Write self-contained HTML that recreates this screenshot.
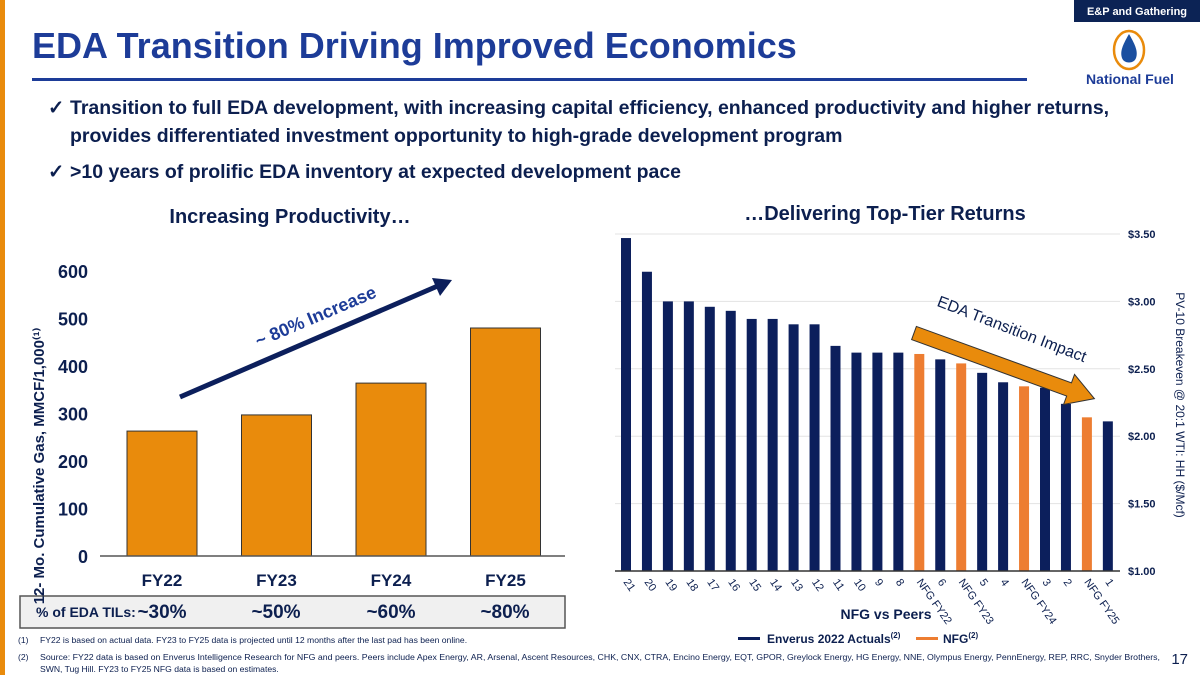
<!DOCTYPE html>
<html><head><meta charset="utf-8"><style>
body{margin:0;width:1200px;height:675px;overflow:hidden;background:#fff;font-family:"Liberation Sans",sans-serif;position:relative}
</style></head><body>
<svg width="1200" height="675" viewBox="0 0 1200 675" xmlns="http://www.w3.org/2000/svg" font-family="Liberation Sans, sans-serif">
<rect x="0" y="0" width="5" height="675" fill="#e98b0c"/>
<rect x="1074" y="0" width="126" height="22" fill="#0c2355"/>
<text x="1137" y="15" font-size="11" font-weight="bold" fill="#fff" text-anchor="middle">E&amp;P and Gathering</text>
<text x="32" y="58" font-size="36" font-weight="bold" fill="#1d3c98">EDA Transition Driving Improved Economics</text>
<rect x="32" y="78" width="995" height="3" fill="#1d3c98"/>
<g>
<ellipse cx="1129" cy="50" rx="15" ry="19" fill="#fff" stroke="#e98b0c" stroke-width="2.5"/>
<path d="M1129 34 C1122 46 1120 52 1122 58 C1124 64 1134 64 1136 58 C1138 52 1136 46 1129 34Z" fill="#1a4fa0"/>
<text x="1130" y="84" font-size="14" font-weight="bold" fill="#1d3c98" text-anchor="middle">National Fuel</text>
</g>
<g font-size="19.5" font-weight="bold" fill="#0c1f4f">
<text x="48" y="114">✓</text><text x="70" y="114">Transition to full EDA development, with increasing capital efficiency, enhanced productivity and higher returns,</text>
<text x="70" y="142">provides differentiated investment opportunity to high-grade development program</text>
<text x="48" y="178">✓</text><text x="70" y="178">&gt;10 years of prolific EDA inventory at expected development pace</text>
</g>
<text x="290" y="223" font-size="20" font-weight="bold" fill="#0c1f4f" text-anchor="middle">Increasing Productivity…</text>
<text x="885" y="220" font-size="20" font-weight="bold" fill="#0c1f4f" text-anchor="middle">…Delivering Top-Tier Returns</text>
<rect x="20" y="596" width="545" height="32" fill="#f0f0f0" stroke="#555" stroke-width="1.5"/>
<text x="36" y="617" font-size="14" font-weight="bold" fill="#0c1f4f">% of EDA TILs:</text>
<g font-size="19" font-weight="bold" fill="#0c1f4f" text-anchor="middle">
<text x="162" y="618">~30%</text><text x="276" y="618">~50%</text><text x="391" y="618">~60%</text><text x="505" y="618">~80%</text></g>
<g id="left"></g>
<g id="right"></g>
<g>
<rect x="738" y="637" width="22" height="3" fill="#0c1f5c"/>
<text x="767" y="643" font-size="12" font-weight="bold" fill="#0c1f4f">Enverus 2022 Actuals<tspan font-size="8" dy="-5">(2)</tspan></text>
<rect x="916" y="637" width="22" height="3" fill="#ed7d31"/>
<text x="943" y="643" font-size="12" font-weight="bold" fill="#0c1f4f">NFG<tspan font-size="8" dy="-5">(2)</tspan></text>
</g>
<g font-size="8.6" fill="#0c1f4f">
<text x="18" y="643">(1)</text><text x="40" y="643">FY22 is based on actual data. FY23 to FY25 data is projected until 12 months after the last pad has been online.</text>
<text x="18" y="660">(2)</text><text x="40" y="660" textLength="1120" lengthAdjust="spacingAndGlyphs">Source: FY22 data is based on Enverus Intelligence Research for NFG and peers. Peers include Apex Energy, AR, Arsenal, Ascent Resources, CHK, CNX, CTRA, Encino Energy, EQT, GPOR, Greylock Energy, HG Energy, NNE, Olympus Energy, PennEnergy, REP, RRC, Snyder Brothers,</text>
<text x="40" y="672">SWN, Tug Hill. FY23 to FY25 NFG data is based on estimates.</text>
</g>
<text x="1188" y="664" font-size="15" fill="#0c1f4f" text-anchor="end">17</text>
</svg>
<script>
const leftCats=["FY22","FY23","FY24","FY25"];
const leftVals=[263,297,364,480];
const leftTicks=[0,100,200,300,400,500,600];
const rightCats=["21","20","19","18","17","16","15","14","13","12","11","10","9","8","NFG FY22","6","NFG FY23","5","4","NFG FY24","3","2","NFG FY25","1"];
const rightVals=[3.47,3.22,3.00,3.00,2.96,2.93,2.87,2.87,2.83,2.83,2.67,2.62,2.62,2.62,2.61,2.57,2.54,2.47,2.40,2.37,2.36,2.24,2.14,2.11];
const rightNFG=[0,0,0,0,0,0,0,0,0,0,0,0,0,0,1,0,1,0,0,1,0,0,1,0];
const rightTicks=[1.00,1.50,2.00,2.50,3.00,3.50];
const NS="http://www.w3.org/2000/svg";
function mk(p,t,a,txt){const e=document.createElementNS(NS,t);for(const k in a)e.setAttribute(k,a[k]);if(txt!==undefined)e.textContent=txt;p.appendChild(e);return e;}
// left
const L=document.getElementById('left');
const ly=v=>556-v*0.475;
const lx=i=>162+i*114.5;
leftTicks.forEach(t=>{const e=mk(L,'text',{x:88,y:ly(t)+7,'font-size':18,'font-weight':'bold',fill:'#0c1f4f','text-anchor':'end'},t);

});
leftVals.forEach((v,i)=>{const r=mk(L,'rect',{x:lx(i)-35,y:ly(v),width:70,height:556-ly(v),fill:'#e98b0c',stroke:'#333','stroke-width':1});


const t=mk(L,'text',{x:lx(i),y:586,'font-size':17,'font-weight':'bold',fill:'#0c1f4f','text-anchor':'middle'},leftCats[i]);

});
const la=mk(L,'line',{x1:100,y1:556,x2:565,y2:556,stroke:'#555','stroke-width':1.5});


const yt=mk(L,'text',{x:0,y:0,'font-size':15,'font-weight':'bold',fill:'#0c1f4f','text-anchor':'middle',transform:'translate(44,466) rotate(-90)'},'12- Mo. Cumulative Gas, MMCF/1,000⁽¹⁾');


const ar=mk(L,'g',{});


mk(ar,'line',{x1:180,y1:397,x2:440,y2:285,stroke:'#0c1f5c','stroke-width':5});
mk(ar,'polygon',{points:'452,280 432,278 440,296',fill:'#0c1f5c'});
const at=mk(L,'text',{x:0,y:0,'font-size':18,'font-weight':'bold',fill:'#1d3c98','text-anchor':'middle',transform:'translate(318,322) rotate(-23)'},'~ 80% Increase');


// right
const R=document.getElementById('right');
const ry=v=>571-(v-1)*134.8;
const rx=i=>626+i*20.95;
rightTicks.forEach(t=>{const g=mk(R,'line',{x1:615,y1:ry(t),x2:1120,y2:ry(t),stroke:'#e3e3e3','stroke-width':1});


const e=mk(R,'text',{x:1128,y:ry(t)+4,'font-size':11,'font-weight':'bold',fill:'#0c1f4f'},'$'+t.toFixed(2));

});
rightVals.forEach((v,i)=>{const r=mk(R,'rect',{x:rx(i)-5,y:ry(v),width:10,height:571-ry(v),fill:rightNFG[i]?'#ed7d31':'#0c1f5c'});


const t=mk(R,'text',{x:0,y:0,'font-size':11,fill:'#0c1f4f',transform:'translate('+(rx(i)-3)+',582) rotate(55)'},rightCats[i]);

});
const ra=mk(R,'line',{x1:615,y1:571,x2:1120,y2:571,stroke:'#333','stroke-width':1.5});


const xt=mk(R,'text',{x:886,y:619,'font-size':14,'font-weight':'bold',fill:'#0c1f4f','text-anchor':'middle'},'NFG vs Peers');


const ryt=mk(R,'text',{x:0,y:0,'font-size':12,fill:'#0c1f4f','text-anchor':'middle',transform:'translate(1176,405) rotate(90)'},'PV-10 Breakeven @ 20:1 WTI: HH ($/Mcf)');


const ea=mk(R,'polygon',{points:'0,-7 165,-7 165,-16 192,0 165,16 165,7 0,7',fill:'#e98b0c',stroke:'#333','stroke-width':1,transform:'translate(914,333) rotate(20)'});


const et=mk(R,'text',{x:0,y:0,'font-size':16,fill:'#0c1f4f','text-anchor':'middle',transform:'translate(1010,334) rotate(21)'},'EDA Transition Impact');


</script>
</body></html>
